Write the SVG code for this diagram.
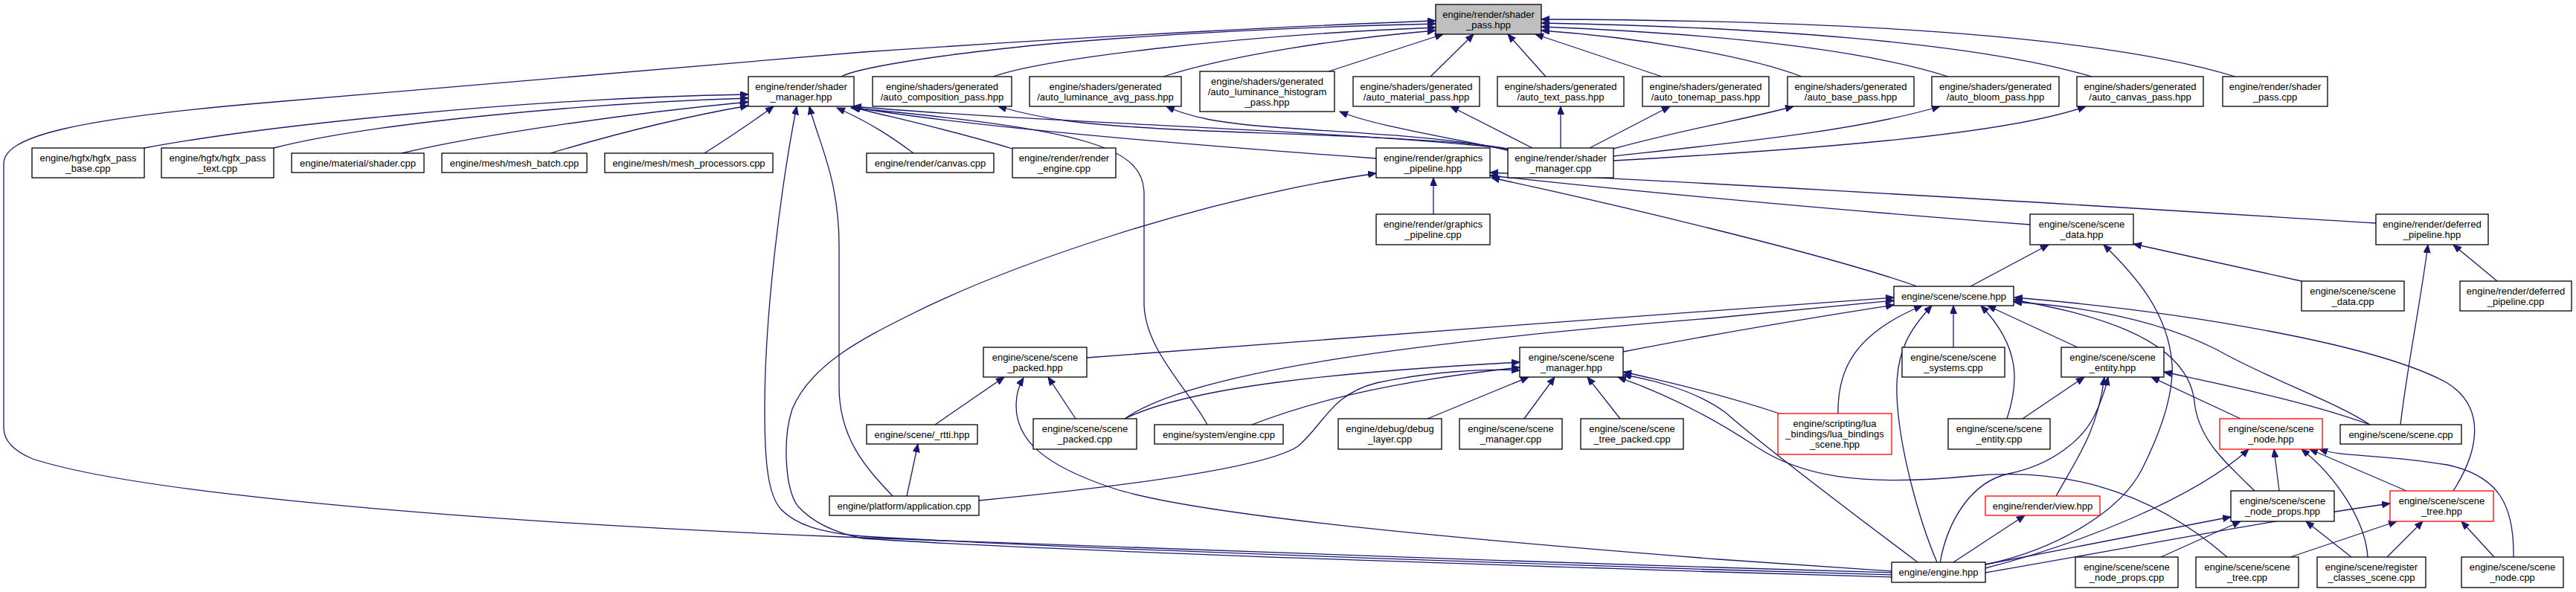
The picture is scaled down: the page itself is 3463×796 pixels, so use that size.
<svg xmlns="http://www.w3.org/2000/svg" width="3463" height="796" viewBox="0 0 3463 796">
<defs>
<style>
.node rect{fill:#fff;stroke:#000;stroke-width:1.3}
.main rect{fill:#bfbfbf}
.trunc rect{stroke:#ff0000}
text{font-family:"Liberation Sans",Arial,sans-serif;font-size:13px;text-anchor:middle;fill:#000}
#edges path{fill:none;stroke:#191970;stroke-width:1.3;marker-end:url(#ah)}
</style>
<marker id="ah" markerWidth="12" markerHeight="10" refX="11" refY="4.5" orient="auto" markerUnits="userSpaceOnUse"><path d="M0,0 L11,4.5 L0,9 z" fill="#191970" stroke="#191970" stroke-width="1"/></marker>
</defs>
<rect width="3463" height="796" fill="#fff"/>
<g id="edges">
<path d="M2543,770 L2310,763 C1900,750 1400,733 1160,723 C700,705 200,668 44,617 C15,605 5,590 5,575 L5,220 C5,185 90,160 370,137 C700,107 1000,82 1160,70 C1500,47 1780,33 1930,28"/>
<path d="M1131,103 C1150,92 1250,75 1400,60 C1600,42 1800,35 1930,32"/>
<path d="M1335,103 C1400,80 1650,48 1930,37"/>
<path d="M1564,103 C1650,75 1800,52 1930,41"/>
<path d="M1786,96 L1940,46"/>
<path d="M1923,103 L1981,46"/>
<path d="M2078,103 L2027,46"/>
<path d="M2234,103 L2064,46"/>
<path d="M2422,103 C2350,75 2200,50 2072,41"/>
<path d="M2619,103 C2500,65 2300,45 2072,36"/>
<path d="M2812,103 C2650,55 2350,36 2072,31"/>
<path d="M3005,103 C2800,40 2400,27 2072,26"/>
<path d="M194,199 C350,170 700,132 1006,127"/>
<path d="M368,199 C500,165 800,138 1006,132"/>
<path d="M540,206 C650,180 850,152 1006,137"/>
<path d="M740,206 C820,182 920,157 1006,142"/>
<path d="M947,206 C980,185 1010,165 1040,143"/>
<path d="M1228,206 C1200,185 1170,165 1125,145"/>
<path d="M1361,200 C1280,175 1200,158 1145,144"/>
<path d="M1850,213 C1600,195 1300,170 1146,144"/>
<path d="M2027,200 C1800,175 1400,165 1147,143"/>
<path d="M1623,571 C1595,520 1540,470 1538,410 L1538,260 C1537,200 1470,175 1144,145"/>
<path d="M1200,667 C1165,630 1128,590 1128,520 L1128,330 C1128,240 1100,190 1088,143"/>
<path d="M2543,773 L2310,766 C1900,753 1400,736 1160,721 C1100,716 1070,705 1050,685 C1032,665 1028,620 1028,550 C1028,420 1050,250 1071,143"/>
<path d="M2027,200 C1950,185 1700,180 1600,175 C1450,168 1400,160 1342,143"/>
<path d="M2027,202 C1950,183 1800,178 1700,170 C1640,165 1600,158 1568,143"/>
<path d="M2027,202 C1950,185 1850,170 1801,150"/>
<path d="M2060,199 L1950,143"/>
<path d="M2098,199 L2098,143"/>
<path d="M2137,199 L2245,143"/>
<path d="M2169,200 C2280,170 2350,160 2411,143"/>
<path d="M2169,210 C2350,190 2500,175 2608,143"/>
<path d="M2169,216 C2450,200 2700,180 2804,143"/>
<path d="M1927,288 L1927,239"/>
<path d="M2543,776 L2310,769 C1900,756 1400,740 1160,724 C1120,716 1090,700 1072,680 C1055,655 1052,590 1065,550 C1090,490 1160,455 1224,423 C1350,360 1600,270 1850,233"/>
<path d="M2577,385 C2450,340 2150,270 2005,239"/>
<path d="M2729,302 C2500,285 2200,258 2003,236"/>
<path d="M3194,300 C2900,282 2400,250 2003,232"/>
<path d="M2649,385 L2754,329"/>
<path d="M2669,759 C2760,740 2850,690 2880,630 C2905,580 2922,530 2920,490 C2915,420 2870,370 2828,329"/>
<path d="M3094,378 L2868,328"/>
<path d="M3357,378 L3298,329"/>
<path d="M3227,571 C3235,500 3255,400 3264,329"/>
<path d="M1461,481 C1800,455 2200,425 2546,400"/>
<path d="M1512,563 C1600,500 1900,460 2300,428 L2546,404"/>
<path d="M2182,473 C2300,450 2450,425 2546,410"/>
<path d="M2471,556 C2470,500 2490,450 2584,411"/>
<path d="M2604,756 C2580,700 2552,600 2550,530 C2548,470 2570,440 2597,411"/>
<path d="M2626,467 L2626,411"/>
<path d="M2698,563 C2712,520 2720,470 2663,411"/>
<path d="M2793,467 L2672,411"/>
<path d="M3031,660 C2990,620 2955,590 2950,540 C2940,450 2800,420 2707,403"/>
<path d="M3186,571 C3140,540 3050,510 2980,470 C2900,430 2800,412 2707,406"/>
<path d="M3298,660 C3330,610 3345,550 3290,515 C3200,465 2950,420 2708,400"/>
<path d="M1257,571 L1350,507"/>
<path d="M1446,563 L1409,507"/>
<path d="M2543,768 L2310,752 C1900,720 1600,690 1498,657 C1400,625 1366,590 1366,545 C1366,530 1370,518 1376,508"/>
<path d="M1219,667 L1234,597"/>
<path d="M1512,563 C1600,520 1800,500 2043,487"/>
<path d="M1683,571 C1750,545 1850,515 2043,494"/>
<path d="M1316,673 C1500,655 1700,630 1745,600 C1780,570 1790,530 1850,515 C1920,500 2000,495 2043,498"/>
<path d="M1919,563 L2055,507"/>
<path d="M2049,563 L2090,507"/>
<path d="M2178,563 L2134,507"/>
<path d="M2395,557 C2330,535 2250,515 2182,500"/>
<path d="M2578,756 C2450,660 2360,590 2320,555 C2280,525 2220,510 2182,504"/>
<path d="M2994,749 C2880,650 2760,630 2650,640 C2500,655 2420,640 2360,600 C2300,560 2240,530 2175,507"/>
<path d="M2719,563 L2802,507"/>
<path d="M2764,667 C2790,620 2820,580 2829,507"/>
<path d="M2608,757 C2618,700 2650,648 2700,637 C2760,625 2800,590 2815,560 C2825,540 2830,525 2834,507"/>
<path d="M3012,563 L2892,507"/>
<path d="M3186,571 C3100,540 3000,520 2909,500"/>
<path d="M2626,756 L2722,693"/>
<path d="M2669,764 C2800,730 2950,670 3023,604"/>
<path d="M3064,660 L3057,604"/>
<path d="M3183,749 C3180,700 3140,640 3094,604"/>
<path d="M3235,660 L3105,604"/>
<path d="M3379,749 C3380,680 3360,640 3290,625 C3200,610 3150,615 3118,604"/>
<path d="M2669,759 L2999,695"/>
<path d="M2905,749 L3012,701"/>
<path d="M3161,749 L3100,701"/>
<path d="M2669,770 C2900,730 3050,700 3213,677"/>
<path d="M3079,749 L3222,701"/>
<path d="M3209,749 L3257,701"/>
<path d="M3353,749 L3309,701"/>
</g>
<g id="n0" class="node main"><rect x="1930" y="6" width="142" height="40"/><text x="2001" y="24">engine/render/shader</text><text x="2001" y="38">_pass.hpp</text></g>
<g id="n1" class="node"><rect x="1006" y="103" width="142" height="40"/><text x="1077" y="121">engine/render/shader</text><text x="1077" y="135">_manager.hpp</text></g>
<g id="n2" class="node"><rect x="1173" y="103" width="187" height="40"/><text x="1266.5" y="121">engine/shaders/generated</text><text x="1266.5" y="135">/auto_composition_pass.hpp</text></g>
<g id="n3" class="node"><rect x="1384" y="103" width="204" height="40"/><text x="1486" y="121">engine/shaders/generated</text><text x="1486" y="135">/auto_luminance_avg_pass.hpp</text></g>
<g id="n4" class="node"><rect x="1613" y="96" width="181" height="54"/><text x="1703.5" y="113.5">engine/shaders/generated</text><text x="1703.5" y="127.5">/auto_luminance_histogram</text><text x="1703.5" y="141.5">_pass.hpp</text></g>
<g id="n5" class="node"><rect x="1819" y="103" width="170" height="40"/><text x="1904" y="121">engine/shaders/generated</text><text x="1904" y="135">/auto_material_pass.hpp</text></g>
<g id="n6" class="node"><rect x="2013" y="103" width="170" height="40"/><text x="2098" y="121">engine/shaders/generated</text><text x="2098" y="135">/auto_text_pass.hpp</text></g>
<g id="n7" class="node"><rect x="2208" y="103" width="170" height="40"/><text x="2293" y="121">engine/shaders/generated</text><text x="2293" y="135">/auto_tonemap_pass.hpp</text></g>
<g id="n8" class="node"><rect x="2403" y="103" width="170" height="40"/><text x="2488" y="121">engine/shaders/generated</text><text x="2488" y="135">/auto_base_pass.hpp</text></g>
<g id="n9" class="node"><rect x="2597" y="103" width="171" height="40"/><text x="2682.5" y="121">engine/shaders/generated</text><text x="2682.5" y="135">/auto_bloom_pass.hpp</text></g>
<g id="n10" class="node"><rect x="2792" y="103" width="170" height="40"/><text x="2877" y="121">engine/shaders/generated</text><text x="2877" y="135">/auto_canvas_pass.hpp</text></g>
<g id="n11" class="node"><rect x="2988" y="103" width="141" height="40"/><text x="3058.5" y="121">engine/render/shader</text><text x="3058.5" y="135">_pass.cpp</text></g>
<g id="n12" class="node"><rect x="43" y="199" width="151" height="40"/><text x="118.5" y="217">engine/hgfx/hgfx_pass</text><text x="118.5" y="231">_base.cpp</text></g>
<g id="n13" class="node"><rect x="217" y="199" width="151" height="40"/><text x="292.5" y="217">engine/hgfx/hgfx_pass</text><text x="292.5" y="231">_text.cpp</text></g>
<g id="n14" class="node"><rect x="392" y="206" width="178" height="26"/><text x="481" y="223.5">engine/material/shader.cpp</text></g>
<g id="n15" class="node"><rect x="594" y="206" width="195" height="26"/><text x="691.5" y="223.5">engine/mesh/mesh_batch.cpp</text></g>
<g id="n16" class="node"><rect x="813" y="206" width="226" height="26"/><text x="926" y="223.5">engine/mesh/mesh_processors.cpp</text></g>
<g id="n17" class="node"><rect x="1165" y="206" width="171" height="26"/><text x="1250.5" y="223.5">engine/render/canvas.cpp</text></g>
<g id="n18" class="node"><rect x="1361" y="199" width="139" height="40"/><text x="1430.5" y="217">engine/render/render</text><text x="1430.5" y="231">_engine.cpp</text></g>
<g id="n19" class="node"><rect x="1850" y="199" width="153" height="40"/><text x="1926.5" y="217">engine/render/graphics</text><text x="1926.5" y="231">_pipeline.hpp</text></g>
<g id="n20" class="node"><rect x="2027" y="199" width="142" height="40"/><text x="2098" y="217">engine/render/shader</text><text x="2098" y="231">_manager.cpp</text></g>
<g id="n21" class="node"><rect x="1850" y="288" width="153" height="41"/><text x="1926.5" y="306">engine/render/graphics</text><text x="1926.5" y="320">_pipeline.cpp</text></g>
<g id="n22" class="node"><rect x="2729" y="288" width="139" height="41"/><text x="2798.5" y="306">engine/scene/scene</text><text x="2798.5" y="320">_data.hpp</text></g>
<g id="n23" class="node"><rect x="3194" y="288" width="151" height="41"/><text x="3269.5" y="306">engine/render/deferred</text><text x="3269.5" y="320">_pipeline.hpp</text></g>
<g id="n24" class="node"><rect x="2546" y="385" width="161" height="26"/><text x="2626.5" y="402.5">engine/scene/scene.hpp</text></g>
<g id="n25" class="node"><rect x="3094" y="378" width="138" height="40"/><text x="3163" y="396">engine/scene/scene</text><text x="3163" y="410">_data.cpp</text></g>
<g id="n26" class="node"><rect x="3307" y="378" width="150" height="40"/><text x="3382" y="396">engine/render/deferred</text><text x="3382" y="410">_pipeline.cpp</text></g>
<g id="n27" class="node"><rect x="1322" y="467" width="139" height="40"/><text x="1391.5" y="485">engine/scene/scene</text><text x="1391.5" y="499">_packed.hpp</text></g>
<g id="n28" class="node"><rect x="2043" y="467" width="139" height="40"/><text x="2112.5" y="485">engine/scene/scene</text><text x="2112.5" y="499">_manager.hpp</text></g>
<g id="n29" class="node"><rect x="2557" y="467" width="138" height="40"/><text x="2626" y="485">engine/scene/scene</text><text x="2626" y="499">_systems.cpp</text></g>
<g id="n30" class="node"><rect x="2771" y="467" width="138" height="40"/><text x="2840" y="485">engine/scene/scene</text><text x="2840" y="499">_entity.hpp</text></g>
<g id="n31" class="node"><rect x="1165" y="571" width="149" height="26"/><text x="1239.5" y="588.5">engine/scene/_rtti.hpp</text></g>
<g id="n32" class="node"><rect x="1389" y="563" width="139" height="41"/><text x="1458.5" y="581">engine/scene/scene</text><text x="1458.5" y="595">_packed.cpp</text></g>
<g id="n33" class="node"><rect x="1552" y="571" width="173" height="26"/><text x="1638.5" y="588.5">engine/system/engine.cpp</text></g>
<g id="n34" class="node"><rect x="1799" y="563" width="139" height="41"/><text x="1868.5" y="581">engine/debug/debug</text><text x="1868.5" y="595">_layer.cpp</text></g>
<g id="n35" class="node"><rect x="1962" y="563" width="138" height="41"/><text x="2031" y="581">engine/scene/scene</text><text x="2031" y="595">_manager.cpp</text></g>
<g id="n36" class="node"><rect x="2125" y="563" width="138" height="41"/><text x="2194" y="581">engine/scene/scene</text><text x="2194" y="595">_tree_packed.cpp</text></g>
<g id="n37" class="node trunc"><rect x="2390" y="556" width="153" height="55"/><text x="2466.5" y="574">engine/scripting/lua</text><text x="2466.5" y="588">_bindings/lua_bindings</text><text x="2466.5" y="602">_scene.hpp</text></g>
<g id="n38" class="node"><rect x="2619" y="563" width="137" height="41"/><text x="2687.5" y="581">engine/scene/scene</text><text x="2687.5" y="595">_entity.cpp</text></g>
<g id="n39" class="node trunc"><rect x="2984" y="563" width="138" height="41"/><text x="3053" y="581">engine/scene/scene</text><text x="3053" y="595">_node.hpp</text></g>
<g id="n40" class="node"><rect x="3146" y="571" width="163" height="26"/><text x="3227.5" y="588.5">engine/scene/scene.cpp</text></g>
<g id="n41" class="node"><rect x="1115" y="667" width="201" height="26"/><text x="1215.5" y="684.5">engine/platform/application.cpp</text></g>
<g id="n42" class="node trunc"><rect x="2669" y="667" width="154" height="26"/><text x="2746" y="684.5">engine/render/view.hpp</text></g>
<g id="n43" class="node"><rect x="2999" y="660" width="139" height="41"/><text x="3068.5" y="678">engine/scene/scene</text><text x="3068.5" y="692">_node_props.hpp</text></g>
<g id="n44" class="node trunc"><rect x="3213" y="660" width="139" height="41"/><text x="3282.5" y="678">engine/scene/scene</text><text x="3282.5" y="692">_tree.hpp</text></g>
<g id="n45" class="node"><rect x="2543" y="756" width="126" height="27"/><text x="2606" y="774">engine/engine.hpp</text></g>
<g id="n46" class="node"><rect x="2790" y="749" width="138" height="41"/><text x="2859" y="767">engine/scene/scene</text><text x="2859" y="781">_node_props.cpp</text></g>
<g id="n47" class="node"><rect x="2952" y="749" width="138" height="41"/><text x="3021" y="767">engine/scene/scene</text><text x="3021" y="781">_tree.cpp</text></g>
<g id="n48" class="node"><rect x="3115" y="749" width="146" height="41"/><text x="3188" y="767">engine/scene/register</text><text x="3188" y="781">_classes_scene.cpp</text></g>
<g id="n49" class="node"><rect x="3309" y="749" width="137" height="41"/><text x="3377.5" y="767">engine/scene/scene</text><text x="3377.5" y="781">_node.cpp</text></g>
</svg>
